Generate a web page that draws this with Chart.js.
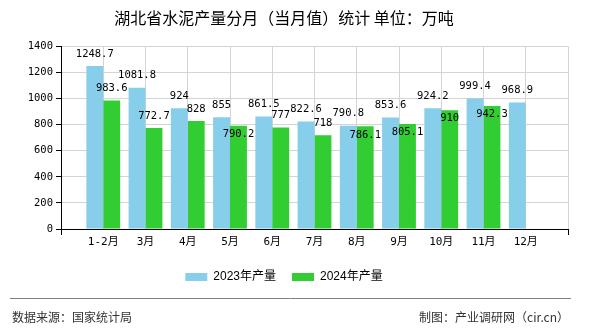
<!DOCTYPE html>
<html lang="zh-CN">
<head>
<meta charset="UTF-8">
<title>湖北省水泥产量分月（当月值）统计</title>
<script src="https://cdn.jsdelivr.net/npm/chart.js"></script>
<style>
    html, body { margin: 0; padding: 0; background: #fff; }
    #wrap { width: 590px; height: 330px; }
</style>
</head>
<body>
<div id="wrap"><canvas id="cementChart" width="590" height="330"></canvas></div>
<script>
    const months = ['1-2月', '3月', '4月', '5月', '6月', '7月', '8月', '9月', '10月', '11月', '12月'];
    const output2023 = [1248.7, 1081.8, 924, 855, 861.5, 822.6, 790.8, 853.6, 924.2, 999.4, 968.9];
    const output2024 = [983.6, 772.7, 828, 790.2, 777, 718, 786.1, 805.1, 910, 942.3, null];
    const yTicks = [0, 200, 400, 600, 800, 1000, 1200, 1400];

    // empty slot on each side so the bars sit on the inner grid lines
    const slots = ['', ...months, ''];
    const pad = arr => [null, ...arr, null];

    const monoFont = { family: '"DejaVu Sans Mono", "Noto Sans CJK SC", monospace', size: 10.5 };

    // numbers over the bars; a 2024 label that would run into the 2023 one goes inside its bar
    const valueLabels = {
        id: 'valueLabels',
        afterDatasetsDraw(chart) {
            const ctx = chart.ctx;
            const a = chart.data.datasets[0].data;
            const b = chart.data.datasets[1].data;
            const barsA = chart.getDatasetMeta(0).data;
            const barsB = chart.getDatasetMeta(1).data;
            ctx.save();
            ctx.font = `${monoFont.size}px ${monoFont.family}`;
            ctx.fillStyle = '#000';
            ctx.textAlign = 'center';
            ctx.textBaseline = 'middle';
            a.forEach((v, i) => {
                if (v == null) return;
                const yA = barsA[i].y - 12;
                ctx.fillText(String(v), barsA[i].x, yA);
                if (b[i] == null) return;
                let yB = barsB[i].y - 12;
                if (Math.abs(yB - yA) < 10) yB = barsB[i].y + 8.5;
                ctx.fillText(String(b[i]), barsB[i].x, yB);
            });
            ctx.restore();
        }
    };

    const footer = {
        id: 'footer',
        afterDraw(chart) {
            const ctx = chart.ctx;
            ctx.save();
            ctx.strokeStyle = '#808080';
            ctx.lineWidth = 1;
            ctx.beginPath();
            ctx.moveTo(10, 298.5);
            ctx.lineTo(571, 298.5);
            ctx.stroke();
            ctx.font = '12px "Noto Sans CJK SC", sans-serif';
            ctx.fillStyle = '#333';
            ctx.textBaseline = 'middle';
            ctx.textAlign = 'left';
            ctx.fillText('数据来源：国家统计局', 12, 317);
            ctx.textAlign = 'right';
            ctx.fillText('制图：产业调研网（cir.cn）', 569, 317);
            ctx.restore();
        }
    };

    new Chart(document.getElementById('cementChart'), {
        type: 'bar',
        data: {
            labels: slots,
            datasets: [
                { label: '2023年产量', data: pad(output2023), backgroundColor: '#87CEEB', borderWidth: 0 },
                { label: '2024年产量', data: pad(output2024), backgroundColor: '#32CD32', borderWidth: 0 }
            ]
        },
        options: {
            responsive: false,
            animation: false,
            devicePixelRatio: 1,
            events: [],
            barPercentage: 1,
            categoryPercentage: 0.8,
            layout: { padding: { left: 0, right: 22, top: 0, bottom: 37 } },
            scales: {
                x: {
                    offset: false,
                    grid: {
                        offset: false,
                        color: '#d4d4d4',
                        tickLength: 6,
                        tickColor: c => (c.index === 0 || c.index === slots.length - 1) ? '#000' : 'rgba(0,0,0,0)'
                    },
                    border: { color: '#000', width: 1 },
                    ticks: { autoSkip: false, maxRotation: 0, padding: 1, color: '#000', font: { family: '"DejaVu Sans Mono", "Noto Sans CJK SC", monospace', size: 11 } },
                    afterFit: s => { s.height = 26; }
                },
                y: {
                    min: yTicks[0],
                    max: yTicks[yTicks.length - 1],
                    grid: { color: '#d4d4d4', tickLength: 5, tickColor: '#000' },
                    border: { color: '#000', width: 1 },
                    ticks: {
                        stepSize: yTicks[1] - yTicks[0],
                        padding: 3,
                        color: '#000',
                        font: monoFont,
                        callback: v => String(v)
                    },
                    afterFit: s => { s.width = 61; }
                }
            },
            plugins: {
                title: {
                    display: true,
                    text: '湖北省水泥产量分月（当月值）统计 单位：万吨',
                    color: '#000',
                    font: { family: '"Noto Sans CJK SC", sans-serif', size: 16, weight: 'normal' },
                    padding: { top: 8, bottom: 19 }
                },
                legend: {
                    position: 'bottom',
                    labels: {
                        boxWidth: 22,
                        boxHeight: 8,
                        padding: 16,
                        color: '#000',
                        font: { family: '"Liberation Sans", "Noto Sans CJK SC", sans-serif', size: 12 }
                    }
                },
                tooltip: { enabled: false }
            }
        },
        plugins: [valueLabels, footer]
    });
</script>
</body>
</html>
